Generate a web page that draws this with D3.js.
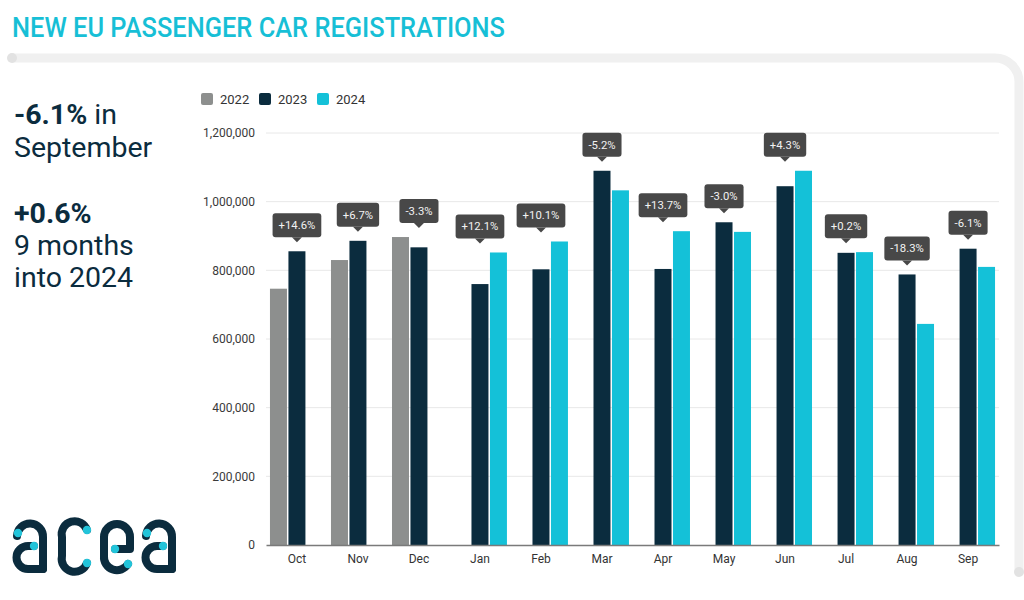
<!DOCTYPE html>
<html>
<head>
<meta charset="utf-8">
<script src="https://cdn.jsdelivr.net/npm/d3@7"></script>
<style>
  html, body { margin: 0; padding: 0; background: #ffffff; }
  svg { display: block; font-family: Roboto, "Noto Sans", sans-serif; }
</style>
</head>
<body>
<svg id="chart" width="1024" height="600"></svg>
<script>
// ---- data ----
const months = ["Oct", "Nov", "Dec", "Jan", "Feb", "Mar", "Apr", "May", "Jun", "Jul", "Aug", "Sep"];
const seriesNames = ["2022", "2023", "2024"];
const values2022 = [746500, 830000, 897000, null, null, null, null, null, null, null, null, null];
const values2023 = [855500, 886000, 867000, 760000, 803000, 1090000, 804000, 940000, 1045000, 851000, 788000, 863000];
const values2024 = [null, null, null, 852000, 884000, 1033000, 914000, 912000, 1090000, 853000, 644000, 810000];
const changeLabels = ["+14.6%", "+6.7%", "-3.3%", "+12.1%", "+10.1%", "-5.2%", "+13.7%", "-3.0%", "+4.3%", "+0.2%", "-18.3%", "-6.1%"];
const yTicks = [0, 200000, 400000, 600000, 800000, 1000000, 1200000];

const colors = { "2022": "#8d8f8e", "2023": "#0b2c3e", "2024": "#14c1d8" };
const navy = "#0b2c3e";
const cyan = "#17bfd6";

const svg = d3.select("#chart");

// ---- panel border ----
svg.append("path")
  .attr("d", "M12,58 H995 A24,24 0 0 1 1019,82 V572")
  .attr("fill", "none").attr("stroke", "#f0f0f0").attr("stroke-width", 9);
svg.append("circle").attr("cx", 12).attr("cy", 58).attr("r", 5).attr("fill", "#e2e2e2");
svg.append("circle").attr("cx", 1019).attr("cy", 572).attr("r", 5).attr("fill", "#e2e2e2");

// ---- title ----
svg.append("text")
  .attr("x", 12).attr("y", 37)
  .attr("fill", cyan)
  .attr("font-size", 27.5).attr("font-weight", 500)
  .attr("textLength", 493).attr("lengthAdjust", "spacingAndGlyphs")
  .text("NEW EU PASSENGER CAR REGISTRATIONS");

// ---- left key figures ----
const side = svg.append("g").attr("fill", navy).attr("font-size", 28.5);
const t1 = side.append("text").attr("x", 14).attr("y", 124);
t1.append("tspan").attr("font-weight", 700).text("-6.1%");
t1.append("tspan").text(" in");
side.append("text").attr("x", 14).attr("y", 157).text("September");
side.append("text").attr("x", 14).attr("y", 223).attr("font-weight", 700).text("+0.6%");
side.append("text").attr("x", 14).attr("y", 255).text("9 months");
side.append("text").attr("x", 14).attr("y", 287).text("into 2024");

// ---- scales ----
const x0 = d3.scaleBand().domain(months).range([266, 999]).paddingInner(0.116).paddingOuter(0.065);
const x1 = d3.scaleBand().domain(seriesNames).range([0, x0.bandwidth()]).paddingInner(0.08);
const y = d3.scaleLinear().domain([0, 1200000]).range([545, 133]);

// ---- grid ----
svg.append("g").selectAll("line").data(yTicks.filter(d => d > 0)).join("line")
  .attr("x1", 266).attr("x2", 999)
  .attr("y1", d => y(d)).attr("y2", d => y(d))
  .attr("stroke", "#e8e8e8").attr("stroke-width", 1);

// ---- y axis ----
const yAxis = svg.append("g").attr("transform", "translate(266,0)")
  .call(d3.axisLeft(y).tickValues(yTicks).tickFormat(d3.format(",")).tickSize(0).tickPadding(11));
yAxis.select(".domain").remove();
yAxis.selectAll("text").attr("font-size", 12).attr("fill", "#3a3a3a").attr("font-family", "Roboto, sans-serif");

// ---- bars ----
const rows = months.map((m, i) => ({
  month: m,
  vals: [
    { s: "2022", v: values2022[i] },
    { s: "2023", v: values2023[i] },
    { s: "2024", v: values2024[i] }
  ].filter(d => d.v != null),
  label: changeLabels[i]
}));

const groups = svg.append("g").selectAll("g").data(rows).join("g")
  .attr("transform", d => `translate(${x0(d.month)},0)`);
groups.selectAll("rect").data(d => d.vals).join("rect")
  .attr("x", d => x1(d.s))
  .attr("width", x1.bandwidth())
  .attr("y", d => y(d.v))
  .attr("height", d => y(0) - y(d.v))
  .attr("fill", d => colors[d.s]);

// ---- x axis ----
const xAxis = svg.append("g").attr("transform", `translate(0,${y(0)})`)
  .call(d3.axisBottom(x0).tickSize(0).tickPadding(9));
xAxis.select(".domain").attr("stroke", "#7a7a7a").attr("stroke-width", 1.5);
xAxis.selectAll("text").attr("font-size", 12).attr("fill", "#333").attr("font-family", "Roboto, sans-serif");

// ---- callouts ----
const callouts = svg.append("g").selectAll("g").data(rows).join("g")
  .attr("transform", d => {
    const top = y(d3.max(d.vals, v => v.v));
    return `translate(${x0(d.month) + x0.bandwidth() / 2},${top - 14})`;
  });
callouts.each(function (d) {
  const g = d3.select(this);
  const txt = g.append("text")
    .attr("x", 0).attr("y", -8)
    .attr("text-anchor", "middle")
    .attr("font-size", 11.3).attr("fill", "#f2f2f2")
    .text(d.label);
  const w = txt.node().getComputedTextLength() + 12;
  g.insert("rect", "text")
    .attr("x", -w / 2).attr("y", -24).attr("width", w).attr("height", 24)
    .attr("rx", 3).attr("fill", "#484848");
  g.insert("path", "text")
    .attr("d", "M-5,0 L5,0 L0,5 Z").attr("fill", "#484848");
});

// ---- legend ----
const legend = svg.append("g").selectAll("g").data(seriesNames).join("g")
  .attr("transform", (d, i) => `translate(${[201, 259, 317][i]},93)`);
legend.append("rect").attr("width", 12).attr("height", 12).attr("rx", 2).attr("fill", d => colors[d]);
legend.append("text").attr("x", 19).attr("y", 11).attr("font-size", 13).attr("fill", "#333").text(d => d);

// ---- logo ----
const logo = svg.append("g").attr("fill", "none").attr("stroke", navy)
  .attr("stroke-width", 8).attr("stroke-linecap", "round").attr("stroke-linejoin", "round");
const T = 524, B = 569;
function letterA(L) {
  logo.append("path").attr("d", `M${L},${T + 12} A13,13 0 0 1 ${L + 26},${T + 13} V${B}`);
  logo.append("path").attr("d", `M${L + 17},${T + 22} H${L + 11} A11.5,11.5 0 0 0 ${L + 11},${B} H${L + 26}`);
  return [[L + 1, T + 9], [L + 17, T + 22]];
}
function letterC(L) {
  logo.append("path").attr("d", `M${L + 25},${T + 6} A13,13 0 0 0 ${L},${T + 13} V${B - 13} A13,13 0 0 0 ${L + 25},${B - 6}`);
  return [[L + 25, T + 6], [L + 25, B - 6]];
}
function letterE(L) {
  logo.append("path").attr("d", `M${L + 11},${T + 25} H${L + 26} V${T + 13} A13,13 0 0 0 ${L},${T + 13} V${B - 13} A13,13 0 0 0 ${L + 24},${B - 5}`);
  return [[L + 11, T + 25], [L + 24, B - 5]];
}
const dots = [].concat(letterA(17), letterC(62), letterE(104), letterA(146));
svg.append("g").selectAll("circle").data(dots).join("circle")
  .attr("cx", d => d[0]).attr("cy", d => d[1]).attr("r", 4.2).attr("fill", "#22c4da");
</script>
</body>
</html>
